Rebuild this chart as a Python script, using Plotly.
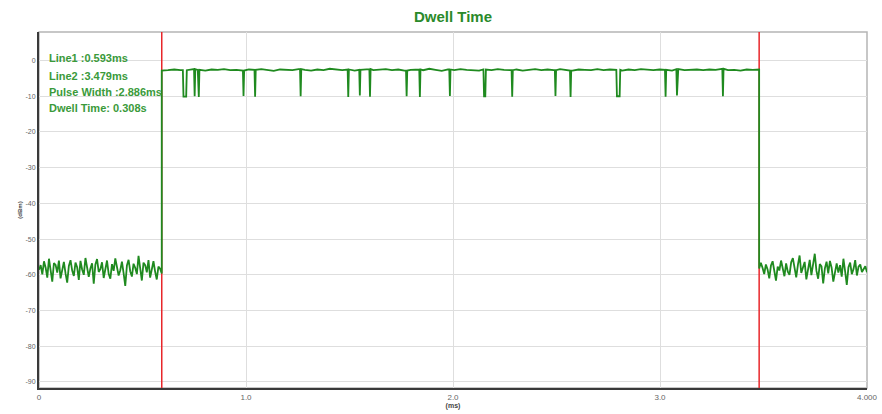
import numpy as np
import plotly.graph_objects as go

# ---------------- data ----------------
TITLE = "Dwell Time"
LINE1 = 0.593          # ms
LINE2 = 3.479          # ms
X_END = 4.0
Y_MIN, Y_MAX = -91.7, 8.0

info_texts = ["Line1 :0.593ms", "Line2 :3.479ms", "Pulse Width :2.886ms", "Dwell Time: 0.308s"]
info_y = [0.6, -4.2, -8.7, -13.4]
info_x = 0.04

x_tickvals = [0, 1, 2, 3, 4]
x_ticktext = ["0", "1.0", "2.0", "3.0", "4.000"]
y_tickvals = [0, -10, -20, -30, -40, -50, -60, -70, -80, -90]
y_ticktext = ["0", "-10", "-20", "-30", "-40", "-50", "-60", "-70", "-80", "-90"]

# noise floor before the pulse (dBm)
noise_left = [-58.6, -57.3, -59.9, -56.2, -58.0, -60.8, -55.5, -58.3, -61.9, -56.7,
              -57.2, -59.4, -56.0, -61.0, -58.1, -56.4, -59.6, -62.2, -57.5, -55.9,
              -58.8, -60.3, -56.6, -57.9, -61.4, -56.1, -58.5, -60.0, -55.3, -57.7,
              -60.6, -58.2, -56.8, -62.5, -57.1, -55.6, -59.2, -58.4, -56.5, -60.9,
              -57.8, -56.0, -59.7, -61.1, -57.0, -58.9, -55.4, -57.6, -60.2, -58.7,
              -56.3, -59.5, -63.1, -57.4, -55.8, -59.0, -60.5, -56.9, -58.0, -59.8,
              -54.7, -58.1, -61.6, -56.6, -57.3, -59.3, -55.9, -60.8, -58.4, -56.2,
              -59.1, -61.3, -57.7, -58.3, -59.6]

# pulse top level (dBm)
high_level = [-2.8, -2.7, -2.5, -2.7, -2.6, -2.4, -2.6, -2.8, -2.5, -2.6,
              -2.4, -2.7, -2.6, -2.8, -2.5, -2.6, -2.4, -2.7, -2.9, -2.5,
              -2.6, -2.7, -2.4, -2.6, -2.8, -2.5, -2.7, -2.3, -2.6, -2.7,
              -2.5, -2.8, -2.6, -2.4, -2.7, -2.6, -2.4, -2.7, -2.5, -2.8,
              -2.6, -2.5, -2.7, -2.3, -2.6, -2.9, -2.5, -2.7, -2.4, -2.6,
              -2.6, -2.8, -2.5, -2.7, -2.4, -2.6, -2.7, -2.5, -2.8, -2.6,
              -2.4, -2.7, -2.5, -2.7, -2.4, -2.6, -2.8, -2.5, -2.6, -2.7,
              -2.4, -2.7, -2.5, -2.6, -2.8, -2.5, -2.7, -2.4, -2.6, -2.7,
              -2.5, -2.6, -2.8, -2.4, -2.7, -2.6, -2.5, -2.7, -2.5, -2.6,
              -2.3, -2.7, -2.6, -2.8, -2.5, -2.6, -2.5]

# short drops inside the pulse
dip_start = [0.698, 0.752, 0.770, 0.988, 1.044, 1.264, 1.494, 1.550, 1.599, 1.776,
             1.840, 1.985, 2.150, 2.286, 2.495, 2.568, 2.792, 3.027, 3.082, 3.304]
dip_end = [0.711, 0.752, 0.772, 0.988, 1.044, 1.264, 1.494, 1.550, 1.599, 1.776,
           1.840, 1.985, 2.156, 2.286, 2.495, 2.568, 2.805, 3.027, 3.082, 3.304]
dip_bottom = [-10.1, -10.0, -10.2, -9.9, -10.1, -10.0, -10.2, -9.8, -10.1, -10.0,
              -10.2, -9.9, -10.0, -10.1, -9.9, -10.2, -10.0, -10.1, -9.8, -10.0]

# noise floor after the pulse (dBm)
noise_right = [-58.2, -56.6, -58.0, -59.8, -57.1, -58.5, -61.0, -57.4, -56.2, -59.3,
               -61.6, -57.7, -58.8, -56.0, -58.1, -60.4, -56.8, -59.1, -60.0, -56.5,
               -55.3, -58.6, -60.7, -57.2, -54.6, -59.5, -57.8, -56.4, -61.3, -58.3,
               -55.8, -60.1, -57.5, -54.1, -58.9, -61.1, -57.0, -57.6, -62.4, -58.2,
               -56.3, -59.6, -56.1, -58.0, -61.9, -58.7, -56.8, -59.4, -57.3, -60.5,
               -55.5, -59.0, -62.8, -57.9, -56.6, -59.8, -58.4, -55.9, -60.2, -57.7,
               -57.1, -59.2, -58.5, -57.6, -59.3]

# ---------------- build trace ----------------
t_left = np.linspace(0, LINE1, len(noise_left))
t_high = np.linspace(LINE1, LINE2, len(high_level))
t_right = np.linspace(LINE2, X_END, len(noise_right))

eps = 0.003
pts = list(zip(t_high.tolist(), high_level))
for s, e, b in zip(dip_start, dip_end, dip_bottom):
    near = high_level[int(np.argmin(np.abs(t_high - s)))]
    pts = [p for p in pts if not (s - eps <= p[0] <= e + eps)]
    pts += [(s - eps, near), (s, b), (e, b), (e + eps, near)]
pts.sort(key=lambda p: p[0])

xs = t_left.tolist() + [p[0] for p in pts] + t_right.tolist()
ys = list(noise_left) + [p[1] for p in pts] + list(noise_right)

GREEN = "#1f8a1f"
RED = "#e8262a"
FONT = "Liberation Sans, Arial"

fig = go.Figure()
for lx in (LINE1, LINE2):
    fig.add_trace(go.Scatter(x=[lx, lx], y=[Y_MIN, Y_MAX], mode="lines",
                             line=dict(color=RED, width=1.5), hoverinfo="skip"))
fig.add_trace(go.Scatter(x=xs, y=ys, mode="lines",
                         line=dict(color=GREEN, width=1.8), hoverinfo="skip"))

for txt, yy in zip(info_texts, info_y):
    fig.add_annotation(x=info_x, y=yy, xref="x", yref="y", text="<b>" + txt + "</b>",
                       showarrow=False, xanchor="left", yanchor="middle",
                       font=dict(family=FONT, size=11, color="#3a9a3a"))

fig.update_layout(
    width=882, height=414,
    margin=dict(l=39, r=15, t=32, b=26, autoexpand=False),
    paper_bgcolor="white", plot_bgcolor="white",
    showlegend=False,
    title=dict(text="<b>" + TITLE + "</b>", x=0.5, xref="paper", xanchor="center",
               y=1 - 17 / 414, yref="container", yanchor="middle",
               font=dict(family=FONT, size=15, color="#2a8a2a")),
    xaxis=dict(range=[0, X_END], tickvals=x_tickvals, ticktext=x_ticktext,
               automargin=False,
               showgrid=True, gridcolor="#dedede", gridwidth=1, zeroline=False,
               showline=True, linecolor="#3a3a3a", linewidth=2, ticks="",
               tickfont=dict(family=FONT, size=8, color="#666666"),
               title=dict(text="<b>(ms)</b>", font=dict(family=FONT, size=7, color="#444444"), standoff=2)),
    yaxis=dict(range=[Y_MIN, Y_MAX], tickvals=y_tickvals, ticktext=y_ticktext,
               automargin=False,
               showgrid=True, gridcolor="#dedede", gridwidth=1, zeroline=False,
               showline=True, linecolor="#3a3a3a", linewidth=2, ticks="",
               tickfont=dict(family=FONT, size=7, color="#666666"),
               title=dict(text="<b>(dBm)</b>", font=dict(family=FONT, size=6, color="#444444"), standoff=2)),
    shapes=[dict(type="rect", xref="paper", yref="paper", x0=0, x1=1, y0=0, y1=1,
                 line=dict(color="#b5b5b5", width=1.5), layer="below")],
)

fig.write_html("out.html", config={"displayModeBar": False, "staticPlot": True},
               post_script="document.body.style.margin='0';document.body.style.overflow='hidden';")
